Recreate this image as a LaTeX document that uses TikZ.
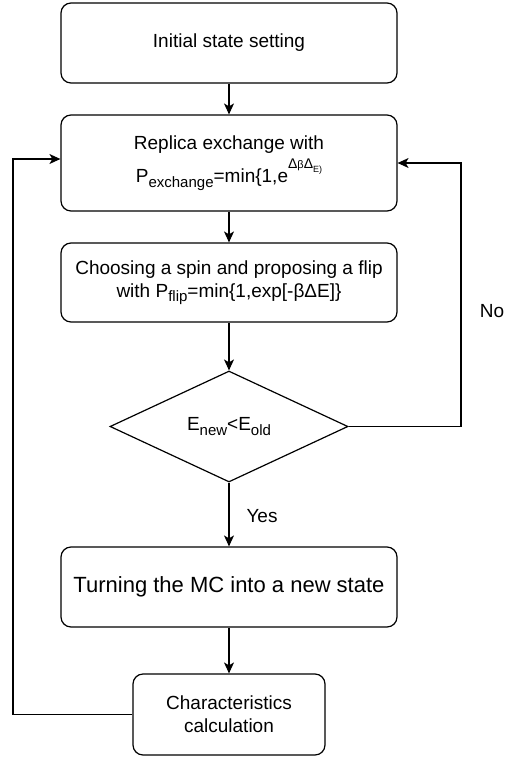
\documentclass[tikz,border=0pt]{standalone}
\usepackage{fontspec}
\setmainfont{Liberation Sans}
\usetikzlibrary{shapes.geometric,arrows.meta}

% small lowered text for indices
\newcommand{\subtxt}[1]{\raisebox{-4.5pt}{\fontsize{15}{15}\selectfont #1}}

\begin{document}
\begin{tikzpicture}[x=1pt,y=1pt]
    \tikzstyle{every node}+=[inner sep=0pt, font=\fontsize{19}{23}\selectfont]
    \tikzstyle{stepbox}=[draw, rounded corners=10pt, line width=1.2pt, minimum width=336pt, align=center]
    \tikzstyle{flow}=[-{Stealth[length=11pt,width=10pt,inset=3pt]}, line width=1.2pt]
    \useasboundingbox (0,0) rectangle (505,-758);
    \node [stepbox, minimum height=80pt] (init) at (229,-43) {Initial state setting};
    \node [stepbox, minimum height=96pt] (rep) at (229,-163) {Replica exchange with\\[5pt]
        P\subtxt{exchange}=min\{1,e\raisebox{14pt}{\fontsize{14}{14}\selectfont Δ{\fontsize{11}{11}\selectfont β}Δ\raisebox{-4pt}{\fontsize{9}{9}\selectfont E)}}};
    \node [stepbox, minimum height=79pt] (choose) at (229,-282.5) {Choosing a spin and proposing a flip\\
        with P\subtxt{flip}=min\{1,exp[-βΔE]\}};
    \node [draw, diamond, line width=1.2pt, minimum width=238pt, minimum height=111pt] (test) at (229,-426.5) {E\subtxt{new}<E\subtxt{old}};
    \node [stepbox, minimum height=80pt, font=\fontsize{22}{26}\selectfont] (newst) at (229,-587) {Turning the MC into a new state};
    \node [stepbox, minimum width=192pt, minimum height=81pt] (calc) at (229,-714.5) {Characteristics\\calculation};
    \node (yes) at (262,-516) {Yes};
    \node (no) at (492,-311) {No};
    \coordinate (noturn) at (461,0);
    \coordinate (back) at (13,0);
    \draw [flow] (init) -- (rep);
    \draw [flow] (rep) -- (choose);
    \draw [flow] (choose) -- (test);
    \draw [flow] (test) -- (newst);
    \draw [flow] (newst) -- (calc);
    \draw [flow] (test.east) -- (noturn |- test.east) |- (rep.east);
    \draw [flow] (calc.west) -- (back |- calc.west) |- ([yshift=4pt]rep.west);
\end{tikzpicture}
\end{document}
